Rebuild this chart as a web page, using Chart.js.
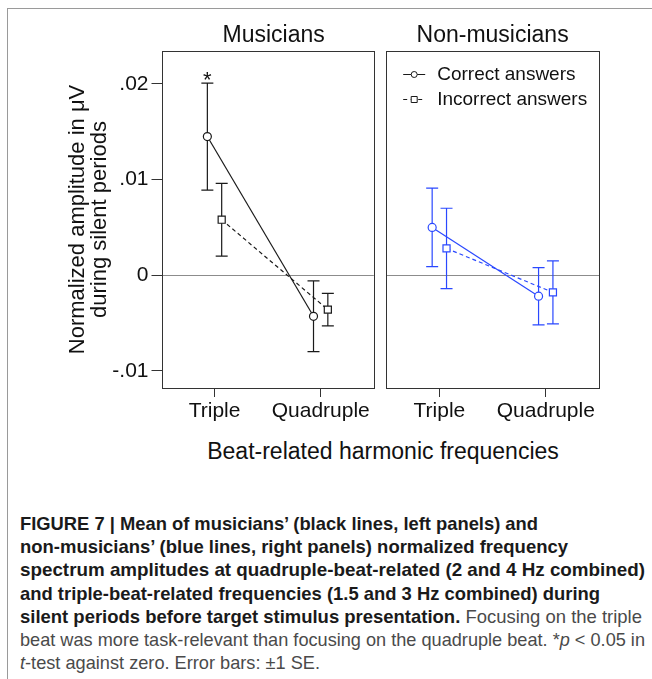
<!DOCTYPE html>
<html>
<head>
<meta charset="utf-8">
<script src="https://cdn.jsdelivr.net/npm/chart.js@4.4.1/dist/chart.umd.min.js"></script>
<style>
  html, body { margin: 0; padding: 0; background: #fff; }
  body { width: 652px; height: 679px; position: relative; overflow: hidden; font-family: "Liberation Sans", Arial, sans-serif; color: #111; }
  .frame { position: absolute; left: 7px; top: 8px; width: 700px; height: 700px; border-top: 1px solid #9a9a9a; border-left: 1px solid #9a9a9a; }
  .panel { position: absolute; top: 0; height: 430px; }
  #wrapL { left: 0; width: 380px; }
  #wrapR { left: 380px; width: 272px; }
  .xtitle { position: absolute; left: 183px; width: 400px; top: 437px; line-height: 28px; text-align: center; font-size: 23px; color: #111; }
  .caption { position: absolute; left: 20px; top: 512px; font-size: 18.5px; line-height: 23.2px; color: #1a1a1a; }
  .caption div { white-space: nowrap; transform-origin: 0 50%; height: 23.2px; }
  .caption b { font-weight: bold; }
  .caption .reg { color: #4a4a4a; }
</style>
</head>
<body>
<div class="frame"></div>
<div class="panel" id="wrapL"><canvas id="musicians" width="380" height="430"></canvas></div>
<div class="panel" id="wrapR"><canvas id="nonMusicians" width="272" height="430"></canvas></div>
<div class="xtitle">Beat-related harmonic frequencies</div>
<div class="caption">
  <div data-w="518"><b>FIGURE 7 | Mean of musicians’ (black lines, left panels) and</b></div>
  <div data-w="548"><b>non-musicians’ (blue lines, right panels) normalized frequency</b></div>
  <div data-w="625"><b>spectrum amplitudes at quadruple-beat-related (2 and 4 Hz combined)</b></div>
  <div data-w="580"><b>and triple-beat-related frequencies (1.5 and 3 Hz combined) during</b></div>
  <div data-w="622"><b>silent periods before target stimulus presentation.</b> <span class="reg">Focusing on the triple</span></div>
  <div data-w="625" class="reg">beat was more task-relevant than focusing on the quadruple beat. *<i>p</i> &lt; 0.05 in</div>
  <div data-w="300" class="reg"><i>t</i>-test against zero. Error bars: ±1 SE.</div>
</div>
<script>
// categories and axis ticks
const categories = ['Triple', 'Quadruple'];
const yTickVals = [-0.01, 0, 0.01, 0.02];
const yTickLabels = ['-.01', '0', '.01', '.02'];
const yMin = -0.0118;
const yMax = 0.02345;

// musicians: mean and SE per category
const musCorrect = [0.0145, -0.0043];
const musCorrectSE = [0.0056, 0.0037];
const musIncorrect = [0.0058, -0.0036];
const musIncorrectSE = [0.0038, 0.0017];
const musCorrectSig = ['*', ''];

// non-musicians
const nonCorrect = [0.0050, -0.0022];
const nonCorrectSE = [0.0041, 0.0030];
const nonIncorrect = [0.0028, -0.0018];
const nonIncorrectSE = [0.0042, 0.0033];

const seriesNames = ['Correct answers', 'Incorrect answers'];

const dodge = [-0.068, 0.067];   // horizontal shift of the two series
const BLACK = '#1a1a1a';
const BLUE = '#2a48ff';
const FONT = '"Liberation Sans", Arial, sans-serif';

Chart.defaults.font.family = FONT;
Chart.defaults.color = '#111';

function points(vals, k) {
    return vals.map((v, i) => ({ x: i + dodge[k], y: v }));
}

function makeSets(color, correct, correctSE, incorrect, incorrectSE, sig) {
    return [
        { label: seriesNames[0], data: points(correct, 0), se: correctSE, sig: sig || [],
          borderColor: color, borderWidth: 1.2, pointStyle: 'circle', pointRadius: 4,
          pointBackgroundColor: '#fff', pointBorderColor: color, pointBorderWidth: 1.2 },
        { label: seriesNames[1], data: points(incorrect, 1), se: incorrectSE, sig: [],
          borderColor: color, borderWidth: 1.2, borderDash: [4, 3], pointStyle: 'rect', pointRadius: 5,
          pointBackgroundColor: '#fff', pointBorderColor: color, pointBorderWidth: 1.2 }
    ];
}

// ±1 SE whiskers with caps, and the significance star
const errorBars = {
    id: 'errorBars',
    beforeDatasetsDraw(chart) {
        const { ctx, scales: { x, y } } = chart;
        chart.data.datasets.forEach(ds => {
            ctx.save();
            ctx.strokeStyle = ds.borderColor;
            ctx.lineWidth = 1.2;
            ds.data.forEach((pt, i) => {
                const px = x.getPixelForValue(pt.x);
                const top = y.getPixelForValue(pt.y + ds.se[i]);
                const bot = y.getPixelForValue(pt.y - ds.se[i]);
                ctx.beginPath();
                ctx.moveTo(px, top); ctx.lineTo(px, bot);
                ctx.moveTo(px - 6, top); ctx.lineTo(px + 6, top);
                ctx.moveTo(px - 6, bot); ctx.lineTo(px + 6, bot);
                ctx.stroke();
                if (ds.sig[i]) {
                    ctx.fillStyle = '#111';
                    ctx.font = '22px ' + FONT;
                    ctx.textAlign = 'center';
                    ctx.textBaseline = 'alphabetic';
                    ctx.fillText(ds.sig[i], px, top + 4);
                }
            });
            ctx.restore();
        });
    }
};

// plot frame and panel heading
const panelFrame = {
    id: 'panelFrame',
    afterDraw(chart, args, opts) {
        const { ctx, chartArea: a } = chart;
        ctx.save();
        ctx.strokeStyle = '#333';
        ctx.lineWidth = 1;
        ctx.strokeRect(Math.round(a.left) + 0.5, Math.round(a.top) + 0.5,
                       Math.round(a.right - a.left), Math.round(a.bottom - a.top));
        ctx.fillStyle = '#111';
        ctx.font = '23px ' + FONT;
        ctx.textAlign = 'center';
        ctx.textBaseline = 'alphabetic';
        ctx.fillText(opts.text, (a.left + a.right) / 2 + (opts.dx || 0), 42);
        ctx.restore();
    }
};

// legend drawn as line + marker samples
const sampleLegend = {
    id: 'sampleLegend',
    afterDraw(chart, args, opts) {
        if (!opts.show) return;
        const { ctx, chartArea: a } = chart;
        const x0 = a.left + 17, x1 = a.left + 39, xm = (x0 + x1) / 2;
        ctx.save();
        ctx.strokeStyle = BLACK;
        ctx.lineWidth = 1;
        seriesNames.forEach((name, k) => {
            const yy = a.top + 23.5 + k * 25;
            ctx.setLineDash(k === 0 ? [] : [4, 3.5]);
            ctx.beginPath();
            ctx.moveTo(x0, yy); ctx.lineTo(x1, yy);
            ctx.stroke();
            ctx.setLineDash([]);
            ctx.fillStyle = '#fff';
            ctx.beginPath();
            if (k === 0) ctx.arc(xm, yy, 3, 0, Math.PI * 2);
            else ctx.rect(xm - 3, yy - 3, 6, 6);
            ctx.fill(); ctx.stroke();
            ctx.fillStyle = '#111';
            ctx.font = '19px ' + FONT;
            ctx.textAlign = 'left';
            ctx.textBaseline = 'middle';
            ctx.fillText(name, a.left + 51, yy);
        });
        ctx.restore();
    }
};

function panelOptions(showY, title, dx) {
    return {
        responsive: false,
        animation: false,
        layout: { padding: showY ? { left: 67, top: 51, right: 3, bottom: 0 }
                                 : { left: 4, top: 51, right: 53, bottom: 0 } },
        plugins: {
            legend: { display: false },
            tooltip: { enabled: false },
            panelFrame: { text: title, dx: dx },
            sampleLegend: { show: !showY }
        },
        scales: {
            x: {
                type: 'linear', min: -0.5, max: 1.5,
                afterBuildTicks: s => { s.ticks = categories.map((c, i) => ({ value: i })); },
                afterFit: s => { s.height = 42; },
                ticks: { callback: v => categories[v], font: { size: 21 }, color: '#111', padding: 2, maxRotation: 0, autoSkip: false },
                grid: { drawOnChartArea: false, drawTicks: true, tickLength: 9, tickColor: '#333', tickWidth: 1 },
                border: { display: false }
            },
            y: {
                min: yMin, max: yMax,
                afterBuildTicks: s => { s.ticks = yTickVals.map(v => ({ value: v })); },
                afterFit: s => { s.width = showY ? 94.5 : 0; },
                ticks: { display: showY, callback: v => yTickLabels[yTickVals.indexOf(v)], font: { size: 21 }, color: '#111', padding: 3 },
                grid: {
                    drawTicks: showY, tickLength: 10, tickColor: '#333',
                    color: c => (c.tick && c.tick.value === 0) ? '#8c8c8c' : 'rgba(0,0,0,0)'
                },
                border: { display: false },
                title: {
                    display: showY,
                    text: ['Normalized amplitude in μV', 'during silent periods'],
                    font: { size: 22, lineHeight: 1.0 }, color: '#111', padding: 0
                }
            }
        }
    };
}

new Chart(document.getElementById('musicians'), {
    type: 'line',
    data: { datasets: makeSets(BLACK, musCorrect, musCorrectSE, musIncorrect, musIncorrectSE, musCorrectSig) },
    options: panelOptions(true, 'Musicians', 6),
    plugins: [errorBars, panelFrame, sampleLegend]
});

new Chart(document.getElementById('nonMusicians'), {
    type: 'line',
    data: { datasets: makeSets(BLUE, nonCorrect, nonCorrectSE, nonIncorrect, nonIncorrectSE) },
    options: panelOptions(false, 'Non-musicians', 0),
    plugins: [errorBars, panelFrame, sampleLegend]
});

// squeeze each caption line to its printed width
document.querySelectorAll('.caption div').forEach(d => {
    const r = document.createRange();
    r.selectNodeContents(d);
    const w = r.getBoundingClientRect().width;
    d.style.transform = 'scaleX(' + (Number(d.dataset.w) / w) + ')';
});
</script>
</body>
</html>
